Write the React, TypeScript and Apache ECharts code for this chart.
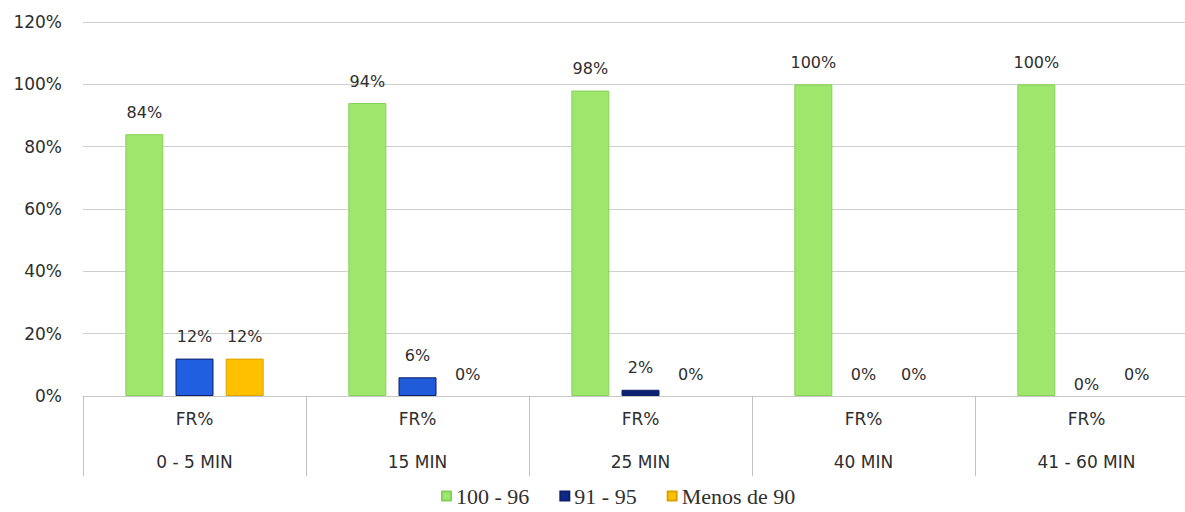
import React, { useEffect, useRef } from "react";
import * as echarts from "echarts";

const categories = ["0 - 5 MIN", "15 MIN", "25 MIN", "40 MIN", "41 - 60 MIN"];
const subLabel = "FR%";
const seriesNames = ["100 - 96", "91 - 95", "Menos de 90"];
const greenValues = [84, 94, 98, 100, 100];
const blueValues = [12, 6, 2, 0, 0];
const orangeValues = [12, 0, 0, 0, 0];
const yTicks = { min: 0, max: 120, interval: 20 };

const labelFont = "DejaVu Sans";
const textColor = "#2e2e2e";

export default function App() {
  const ref = useRef<HTMLDivElement>(null);
  useEffect(() => {
    if (!ref.current) return;
    const chart = echarts.init(ref.current, null, { renderer: "svg" });
    const barLabel = {
      show: true,
      position: "top" as const,
      distance: 14,
      formatter: "{c}%",
      fontFamily: labelFont,
      fontSize: 16,
      color: textColor,
    };
    const blueFills = ["#1f5fe0", "#1f5bd8", "#0c2273", "#0c2273", "#0c2273"];
    const zeroStyle = (v: number) => (v === 0 ? { borderWidth: 0 } : {});
    chart.setOption({
      animation: false,
      grid: { left: 83, top: 22, right: 0, bottom: 116, containLabel: false },
      legend: {
        data: seriesNames,
        left: 436,
        top: 480,
        itemWidth: 9,
        itemHeight: 9,
        itemGap: 30,
        icon: "rect",
        textStyle: { fontFamily: "Liberation Serif", fontSize: 22, color: "#303030" },
      },
      xAxis: {
        type: "category",
        data: categories,
        axisLine: { show: true, lineStyle: { color: "#c8c8c8", width: 1 } },
        axisTick: { show: true, length: 80, lineStyle: { color: "#c0c0c0", width: 1 } },
        axisLabel: {
          margin: 1,
          formatter: (v: string) => `${subLabel}\n${v}`,
          fontFamily: labelFont,
          fontSize: 17,
          lineHeight: 43,
          color: textColor,
        },
      },
      yAxis: {
        type: "value",
        min: yTicks.min,
        max: yTicks.max,
        interval: yTicks.interval,
        axisLine: { show: false },
        axisTick: { show: false },
        axisLabel: {
          formatter: "{value}%",
          margin: 21,
          fontFamily: labelFont,
          fontSize: 17,
          color: textColor,
        },
        splitLine: { lineStyle: { color: "#d0d0d0", width: 1 } },
      },
      series: [
        {
          name: seriesNames[0],
          type: "bar",
          data: greenValues.map((v) => ({ value: v, itemStyle: zeroStyle(v) })),
          barWidth: 38,
          barGap: "32%",
          itemStyle: { color: "#9fe66c", borderColor: "#86d258", borderWidth: 1 },
          label: barLabel,
        },
        {
          name: seriesNames[1],
          type: "bar",
          data: blueValues.map((v, i) => ({
            value: v,
            itemStyle: { color: blueFills[i], ...zeroStyle(v) },
            label: i === 4 ? { offset: [0, 10] } : undefined,
          })),
          barWidth: 38,
          itemStyle: { color: "#0c2a8c", borderColor: "#0d1f66", borderWidth: 1 },
          label: barLabel,
        },
        {
          name: seriesNames[2],
          type: "bar",
          data: orangeValues.map((v) => ({ value: v, itemStyle: zeroStyle(v) })),
          barWidth: 38,
          itemStyle: { color: "#ffc000", borderColor: "#d9a300", borderWidth: 1 },
          label: barLabel,
        },
      ],
    });
    return () => chart.dispose();
  }, []);
  return (
    <div
      style={{ position: "absolute", left: 0, top: 0, width: 1185, height: 512, overflow: "hidden", background: "#fff" }}
    >
      <div ref={ref} style={{ width: 1198, height: 512 }} />
    </div>
  );
}
